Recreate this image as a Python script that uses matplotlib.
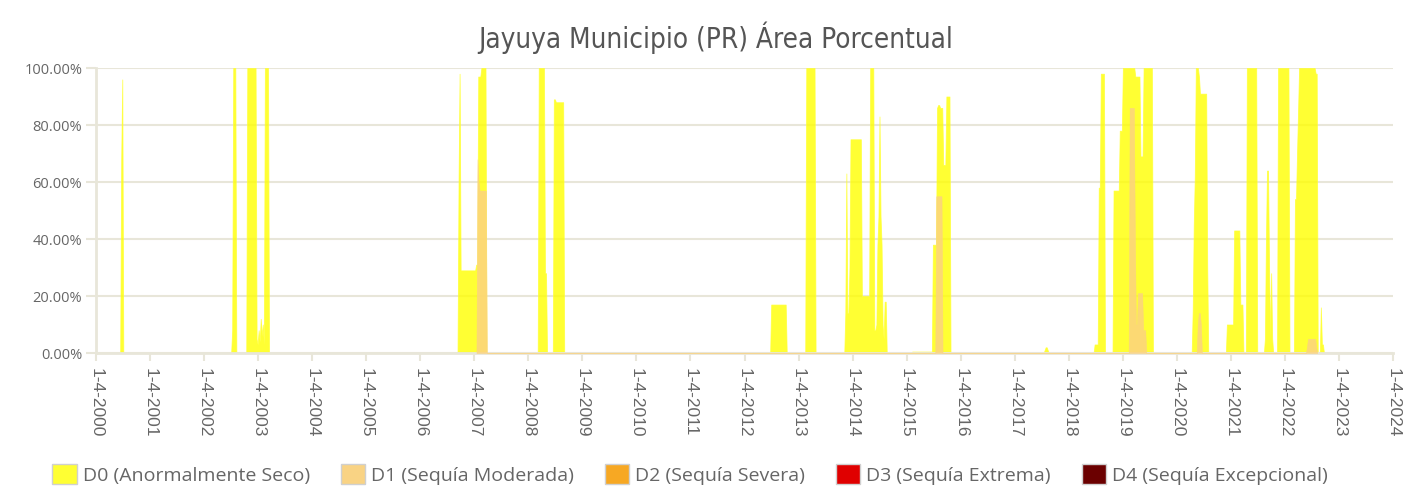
import matplotlib
matplotlib.use("Agg")
from matplotlib import pyplot as plt
from matplotlib.patches import Patch
from matplotlib.ticker import FuncFormatter
import matplotlib.dates as mdates
import pandas as pd

# Semanal: (fecha de inicio, valores semanales en %)
d0_episodes = [
    ("2000-09-11", [0, 68, 96, 0]),
    ("2002-10-01", [0, 8, 100, 100, 100, 0]),
    ("2003-01-11", [0, 100, 100, 100, 100, 100, 100, 100, 100, 100,
                    5, 3, 8, 4, 12, 6, 10, 3, 100, 100, 100, 100, 0]),
    ("2006-12-09", [0, 60, 98, 29, 29, 29, 29, 29, 29, 29, 29, 29, 29, 29, 29,
                    29, 29, 29, 31, 31, 97, 97, 97, 100, 100, 100, 100, 100, 0]),
    ("2008-06-03", [0, 100, 100, 100, 100, 100, 100, 28, 28, 0]),
    ("2008-09-13", [0, 89, 89, 88, 88, 88, 88, 88, 88, 88, 88, 0]),
    ("2012-09-21", [0] + [17] * 15 + [0]),
    ("2013-05-16", [0] + [100] * 9 + [0]),
    ("2014-02-04", [0, 14, 63, 14, 14, 30] + [75] * 11 + [20] * 8 + [100] * 4
                   + [8, 8, 10, 38, 48, 83, 48, 38, 10, 5, 18, 18, 0]),
    ("2015-05-02", [0] + [0.5] * 20 + [38, 38, 38, 38, 86, 87, 87, 86, 86, 86,
                                       66, 66, 66, 90, 90, 90, 90, 0]),
    ("2017-10-13", [0, 1, 2, 2, 1, 0]),
    ("2018-09-16", [0, 3, 3, 3, 3, 58, 58, 98, 98, 98, 98, 0]),
    ("2019-01-22", [0] + [57] * 6 + [78] * 3 + [100] * 12 + [97] * 5
                   + [69] * 3 + [100] * 9 + [0]),
    ("2020-07-10", [0, 15, 45, 62, 100, 100, 100, 97, 91, 91, 91, 91, 91,
                    91, 91, 30, 0]),
    ("2021-02-26", [0] + [10] * 7 + [43] * 6 + [17] * 3 + [0]),
    ("2021-07-11", [0] + [100] * 10 + [0]),
    ("2021-11-10", [0, 5, 40, 64, 64, 30, 5, 28, 5, 0]),
    ("2022-02-07", [0] + [100] * 11 + [0]),
    ("2022-06-01", [0, 54, 54, 70, 85] + [100] * 16 + [98, 98, 0]),
    ("2022-11-23", [0, 16, 3, 3, 0]),
]

d1_episodes = [
    ("2007-04-16", [0, 68, 60, 57, 57, 57, 57, 57, 57, 57, 0]),
    ("2015-10-12", [0, 55, 55, 55, 55, 55, 55, 0]),
    ("2019-05-11", [0, 86, 86, 86, 86, 86, 40, 10, 10, 21, 21, 21, 21, 21,
                    8, 8, 8, 0]),
    ("2020-08-13", [0, 10, 14, 14, 10, 0]),
    ("2022-08-21", [0, 2, 5, 5, 5, 5, 5, 5, 5, 5, 2, 0]),
]

legend_labels = ["D0 (Anormalmente Seco)", "D1 (Sequía Moderada)",
                 "D2 (Sequía Severa)", "D3 (Sequía Extrema)",
                 "D4 (Sequía Excepcional)"]
legend_colors = ["#ffff33", "#f9d384", "#f7a823", "#e00000", "#6b0000"]

tick_years = list(range(2000, 2025))
y_ticks = [0, 20, 40, 60, 80, 100]

title = "Jayuya Municipio (PR) Área Porcentual"


def build_series(episodes):
    dates, values = [], []
    for start, vals in episodes:
        d = pd.date_range(start, periods=len(vals), freq="7D")
        dates.extend(d)
        values.extend(vals)
    return pd.Series(values, index=pd.DatetimeIndex(dates))


grid_color = "#e8e6d9"
text_color = "#666666"

fig = plt.figure(figsize=(14.17, 4.94), dpi=100)
ax = fig.add_axes([0.0678, 0.2854, 0.9153, 0.5769])

d0 = build_series(d0_episodes)
d1 = build_series(d1_episodes)
ax.fill_between(d0.index, 0, d0.values, color="#ffff00", alpha=0.8, linewidth=0.6,
                edgecolor="#ffff33", zorder=2)
ax.fill_between(d1.index, 0, d1.values, color="#fcd37f", alpha=0.85, linewidth=0.4,
                edgecolor="#f9d384", zorder=3)

ax.set_xlim(pd.Timestamp("2000-04-01"), pd.Timestamp("2024-04-01"))
ax.set_ylim(0, 100)

ax.set_xticks([pd.Timestamp(f"{y}-04-01") for y in tick_years])
ax.xaxis.set_major_formatter(mdates.DateFormatter("1-4-%Y"))
ax.set_yticks(y_ticks)
ax.yaxis.set_major_formatter(FuncFormatter(lambda v, p: f"{v:.2f}%"))

ax.grid(axis="y", color=grid_color, linewidth=1.5, zorder=0)
ax.set_axisbelow(True)
for s in ["top", "right"]:
    ax.spines[s].set_visible(False)
for s in ["left", "bottom"]:
    ax.spines[s].set_color(grid_color)
    ax.spines[s].set_linewidth(2)

ax.tick_params(axis="x", colors=grid_color, length=6, width=1.5, pad=5,
               labelcolor=text_color, labelsize=12.5, labelrotation=-90)
ax.tick_params(axis="y", colors=grid_color, length=7, width=1.5, pad=3,
               labelcolor=text_color, labelsize=10.5)
for lab in ax.get_xticklabels():
    lab.set_fontfamily(["Liberation Sans", "DejaVu Sans"])
for lab in ax.get_yticklabels():
    lab.set_fontfamily(["Open Sans", "DejaVu Sans"])

fig.text(0.505, 0.923, title, ha="center", va="center", fontsize=20,
         color="#555555", family=["DejaVu Sans"], fontstretch="condensed")

handles = [Patch(facecolor=c, edgecolor="#d0d0d0", linewidth=1) for c in legend_colors]
leg = fig.legend(handles, legend_labels, loc="center",
                 bbox_to_anchor=(0.487, 0.040), ncol=5, frameon=False,
                 handlelength=1.25, handleheight=1.25,
                 handletextpad=0.3, columnspacing=1.6, labelcolor=text_color,
                 prop={"family": ["Open Sans", "DejaVu Sans"], "size": 14})

fig.savefig("out.png", dpi=100)
